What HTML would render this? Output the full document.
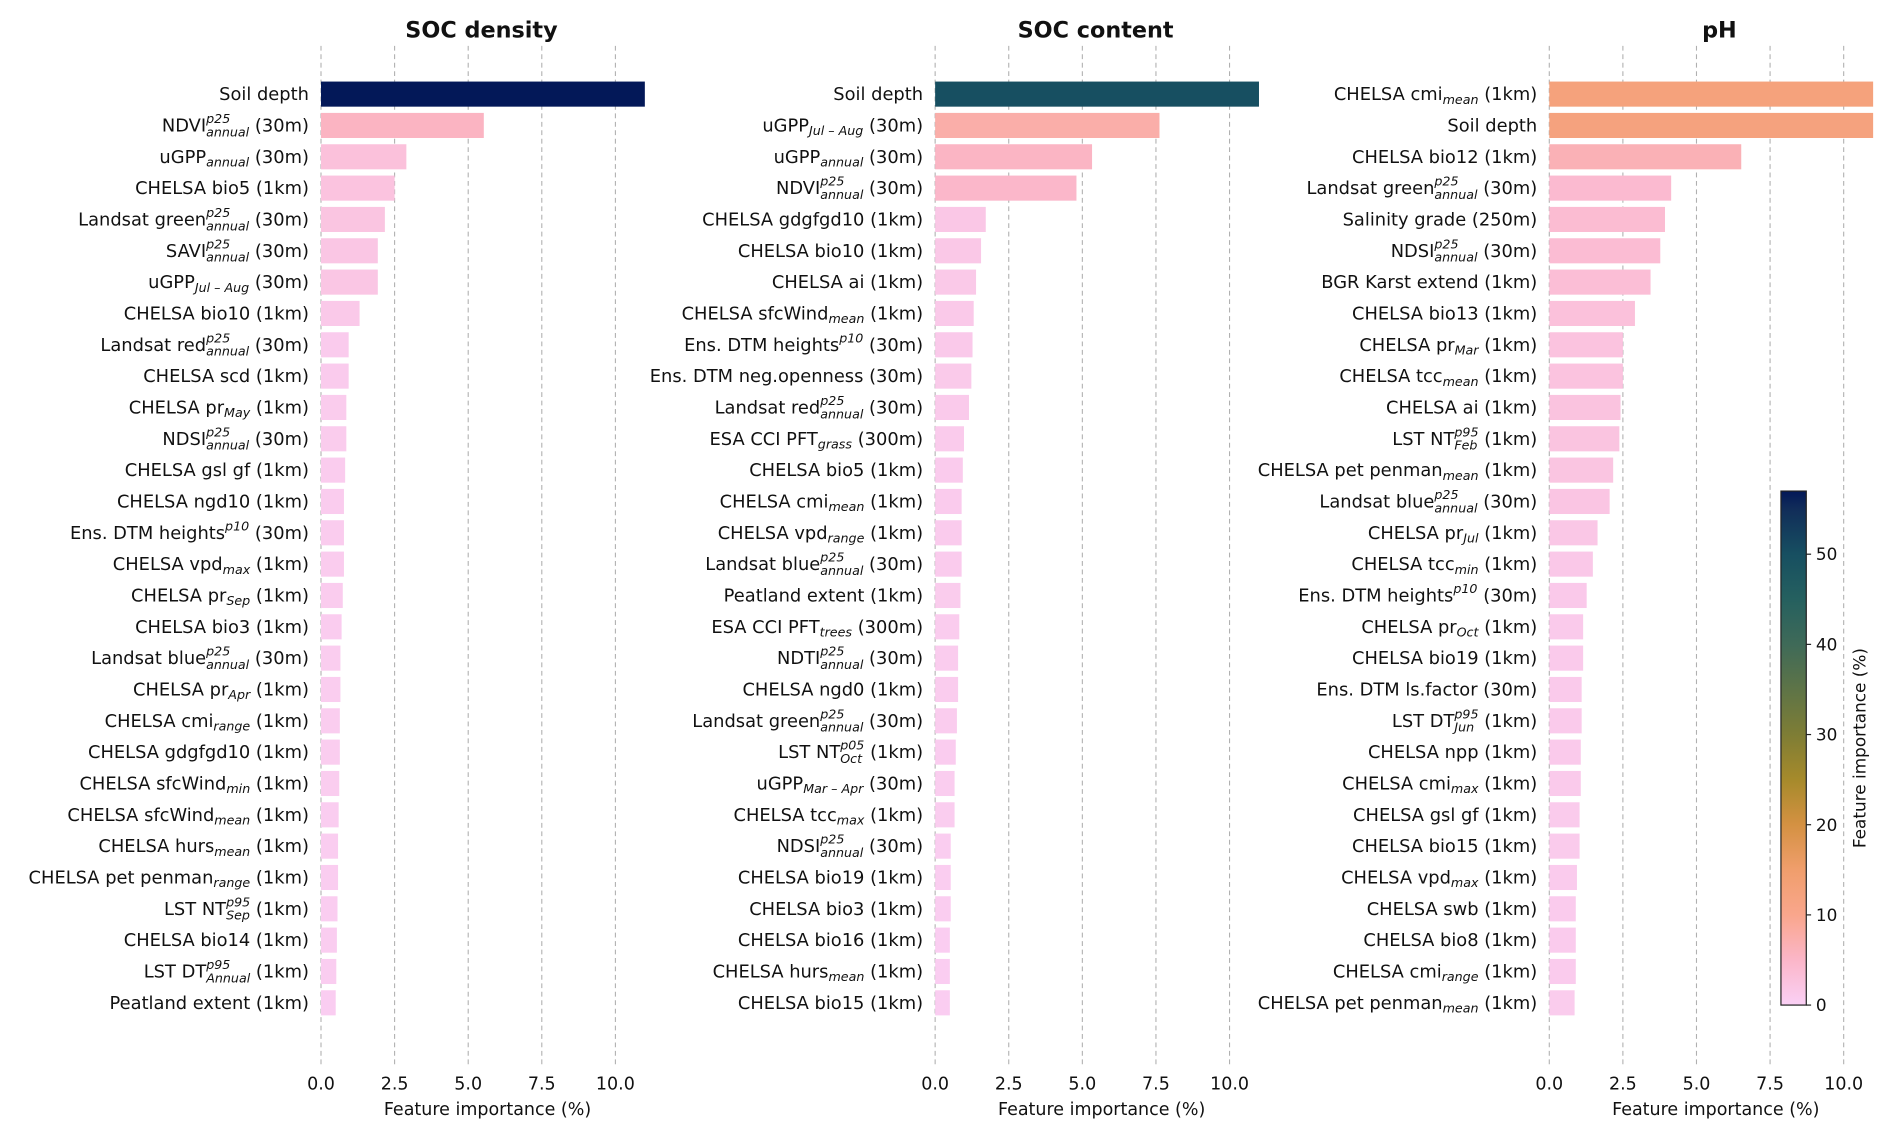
<!DOCTYPE html>
<html><head><meta charset="utf-8">
<style>
html,body{margin:0;padding:0;background:#fff;}
svg{display:block;font-family:"DejaVu Sans","Liberation Sans",sans-serif;}
svg text{white-space:pre;}
</style></head>
<body>
<svg id="chart" width="1892" height="1139" viewBox="0 0 1568 944" xmlns="http://www.w3.org/2000/svg" xml:space="preserve">
<defs>
<linearGradient id="cbgrad" x1="0" y1="1" x2="0" y2="0">
</linearGradient>
</defs>
</svg>
<script>
// ---- data ----
const socDensityLabels = ["Soil depth","NDVI^{p25}_{annual} (30m)","uGPP_{annual} (30m)","CHELSA bio5 (1km)","Landsat green^{p25}_{annual} (30m)","SAVI^{p25}_{annual} (30m)","uGPP_{Jul-Aug} (30m)","CHELSA bio10 (1km)","Landsat red^{p25}_{annual} (30m)","CHELSA scd (1km)","CHELSA pr_{May} (1km)","NDSI^{p25}_{annual} (30m)","CHELSA gsl gf (1km)","CHELSA ngd10 (1km)","Ens. DTM heights^{p10} (30m)","CHELSA vpd_{max} (1km)","CHELSA pr_{Sep} (1km)","CHELSA bio3 (1km)","Landsat blue^{p25}_{annual} (30m)","CHELSA pr_{Apr} (1km)","CHELSA cmi_{range} (1km)","CHELSA gdgfgd10 (1km)","CHELSA sfcWind_{min} (1km)","CHELSA sfcWind_{mean} (1km)","CHELSA hurs_{mean} (1km)","CHELSA pet penman_{range} (1km)","LST NT^{p95}_{Sep} (1km)","CHELSA bio14 (1km)","LST DT^{p95}_{Annual} (1km)","Peatland extent (1km)"];
const socDensityValues = [57,5.53,2.9,2.5,2.17,1.93,1.93,1.31,0.94,0.94,0.86,0.86,0.82,0.78,0.78,0.78,0.74,0.7,0.66,0.66,0.64,0.64,0.62,0.6,0.58,0.58,0.56,0.54,0.52,0.5];
const socContentLabels = ["Soil depth","uGPP_{Jul-Aug} (30m)","uGPP_{annual} (30m)","NDVI^{p25}_{annual} (30m)","CHELSA gdgfgd10 (1km)","CHELSA bio10 (1km)","CHELSA ai (1km)","CHELSA sfcWind_{mean} (1km)","Ens. DTM heights^{p10} (30m)","Ens. DTM neg.openness (30m)","Landsat red^{p25}_{annual} (30m)","ESA CCI PFT_{grass} (300m)","CHELSA bio5 (1km)","CHELSA cmi_{mean} (1km)","CHELSA vpd_{range} (1km)","Landsat blue^{p25}_{annual} (30m)","Peatland extent (1km)","ESA CCI PFT_{trees} (300m)","NDTI^{p25}_{annual} (30m)","CHELSA ngd0 (1km)","Landsat green^{p25}_{annual} (30m)","LST NT^{p05}_{Oct} (1km)","uGPP_{Mar-Apr} (30m)","CHELSA tcc_{max} (1km)","NDSI^{p25}_{annual} (30m)","CHELSA bio19 (1km)","CHELSA bio3 (1km)","CHELSA bio16 (1km)","CHELSA hurs_{mean} (1km)","CHELSA bio15 (1km)"];
const socContentValues = [50,7.62,5.33,4.8,1.72,1.56,1.39,1.31,1.27,1.23,1.15,0.98,0.94,0.9,0.9,0.9,0.86,0.82,0.78,0.78,0.74,0.7,0.66,0.66,0.53,0.53,0.53,0.5,0.5,0.5];
const phLabels = ["CHELSA cmi_{mean} (1km)","Soil depth","CHELSA bio12 (1km)","Landsat green^{p25}_{annual} (30m)","Salinity grade (250m)","NDSI^{p25}_{annual} (30m)","BGR Karst extend (1km)","CHELSA bio13 (1km)","CHELSA pr_{Mar} (1km)","CHELSA tcc_{mean} (1km)","CHELSA ai (1km)","LST NT^{p95}_{Feb} (1km)","CHELSA pet penman_{mean} (1km)","Landsat blue^{p25}_{annual} (30m)","CHELSA pr_{Jul} (1km)","CHELSA tcc_{min} (1km)","Ens. DTM heights^{p10} (30m)","CHELSA pr_{Oct} (1km)","CHELSA bio19 (1km)","Ens. DTM ls.factor (30m)","LST DT^{p95}_{Jun} (1km)","CHELSA npp (1km)","CHELSA cmi_{max} (1km)","CHELSA gsl gf (1km)","CHELSA bio15 (1km)","CHELSA vpd_{max} (1km)","CHELSA swb (1km)","CHELSA bio8 (1km)","CHELSA cmi_{range} (1km)","CHELSA pet penman_{mean} (1km)"];
const phValues = [12.5,12.2,6.52,4.14,3.93,3.77,3.44,2.91,2.5,2.5,2.42,2.38,2.17,2.05,1.64,1.48,1.27,1.15,1.15,1.1,1.1,1.07,1.07,1.03,1.03,0.94,0.9,0.9,0.9,0.86];
const panelTitles = ["SOC density","SOC content","pH"];
const xTicks = [0,2.5,5,7.5,10];
const xTickLabels = ["0.0","2.5","5.0","7.5","10.0"];
const cbTicks = [0,10,20,30,40,50];
const cbMax = 57;

// ---- layout ----
const NS="http://www.w3.org/2000/svg";
const svg=document.getElementById('chart');
const X_MAX=11, PX_PER_UNIT=24.4;
const ROW0=78, ROWSTEP=25.97, BARH=20.8;
const panelX=[266,775,1284];
const titleOffset=[133,133,141];
const stops=[[0,[250,208,245]],[5,[251,182,200]],[10,[249,166,140]],[15,[240,158,108]],[20,[212,145,66]],[25,[166,138,43]],[30,[126,125,53]],[35,[94,116,71]],[40,[63,106,88]],[45,[37,96,95]],[50,[23,79,97]],[55,[17,45,89]],[57,[3,24,88]]];
function cmap(v){
  v=Math.max(0,Math.min(cbMax,v));
  for(let i=0;i<stops.length-1;i++){
    const a=stops[i],b=stops[i+1];
    if(v<=b[0]){const t=(v-a[0])/(b[0]-a[0]);const c=a[1].map((x,k)=>Math.round(x+(b[1][k]-x)*t));return `rgb(${c})`;}
  }
  return 'rgb(3,24,88)';
}
function el(tag,attrs,parent){const e=document.createElementNS(NS,tag);for(const k in attrs)e.setAttribute(k,attrs[k]);(parent||svg).appendChild(e);return e;}
function xs(x0,v){return x0+Math.min(v,X_MAX)*PX_PER_UNIT;}
function ys(i){return ROW0+i*ROWSTEP;}

function parseLabel(s){
  const m=s.match(/^([^\^_]*)(?:\^\{([^}]*)\})?(?:_\{([^}]*)\})?(.*)$/);
  return {base:m[1],sup:m[2]||'',sub:m[3]||'',tail:m[4]||''};
}
function drawLabel(str,xRight,y,parent){
  const g=el('g',{},parent);
  
  
  const p=parseLabel(str);
  const FS=14.8;
  const t1=el('text',{x:0,y:y+5,'font-size':FS,fill:'#111'},g);t1.textContent=p.base;
  let w=t1.getComputedTextLength();
  let ws=0;
  if(p.sup){const t=el('text',{x:w,y:y-2,'font-size':10.5,'font-style':'italic',fill:'#111'},g);t.textContent=p.sup;ws=Math.max(ws,t.getComputedTextLength());}
  if(p.sub){const t=el('text',{x:w,y:y+(p.sup?9:8),'font-size':10.5,'font-style':'italic',fill:'#111'},g);t.textContent=p.sub.replace('-',' \u2013 ');ws=Math.max(ws,t.getComputedTextLength());}
  w+=ws;
  if(p.tail){
    const tail=p.tail.replace(/^\s+/,'');
    const gap=(p.tail.length!==tail.length)?FS*0.32:0;
    const t=el('text',{x:w+gap,y:y+5,'font-size':FS,fill:'#111'},g);t.textContent=tail;w+=gap+t.getComputedTextLength();
  }
  g.setAttribute('transform',`translate(${xRight-w},0)`);
}

const panels=[[socDensityLabels,socDensityValues],[socContentLabels,socContentValues],[phLabels,phValues]];
panels.forEach((pd,pi)=>{
  const x0=panelX[pi];
  const g=el('g',{});
  
  
  xTicks.forEach((t,ti)=>{
    const gl=el('line',{x1:xs(x0,t),x2:xs(x0,t),y1:38,y2:882,stroke:'#b0b0b0','stroke-width':0.9,'stroke-dasharray':'4,3'},g);
    
    
    const tl=el('text',{x:xs(x0,t),y:903,'text-anchor':'middle','font-size':14.5,fill:'#111'},g);
    tl.textContent=xTickLabels[ti];
    
    
  });
  pd[1].forEach((v,i)=>{
    const b=el('rect',{x:x0,y:ys(i)-BARH/2,width:xs(x0,v)-x0,height:BARH,fill:cmap(v)},g);
    
    
    drawLabel(pd[0][i],x0-10,ys(i),g);
  });
  const tt=el('text',{x:x0+titleOffset[pi],y:31,'text-anchor':'middle','font-size':18.5,'font-weight':'bold',fill:'#111'},g);
  tt.textContent=panelTitles[pi];
  
  
  const xl=el('text',{x:x0+138,y:924,'text-anchor':'middle','font-size':14.5,fill:'#111'},g);
  xl.textContent='Feature importance (%)';
  
  
});

// colorbar
const grad=document.getElementById('cbgrad');
stops.forEach(s=>{el('stop',{offset:(s[0]/cbMax),'stop-color':`rgb(${s[1]})`},grad);});
const CB_X=1476,CB_W=21,CB_TOP=407,CB_BOT=833;
function cby(v){return CB_BOT-(v/cbMax)*(CB_BOT-CB_TOP);}
const cbg=el('g',{});


el('rect',{x:CB_X,y:CB_TOP,width:CB_W,height:CB_BOT-CB_TOP,fill:'url(#cbgrad)',stroke:'#222','stroke-width':1},cbg);
cbTicks.forEach(t=>{
  el('line',{x1:CB_X+CB_W,x2:CB_X+CB_W+4,y1:cby(t),y2:cby(t),stroke:'#222','stroke-width':1},cbg);
  const l=el('text',{x:CB_X+CB_W+8,y:cby(t)+5,'font-size':14,fill:'#111'},cbg);
  l.textContent=t;
  
  
});
const cbl=el('text',{x:0,y:0,'text-anchor':'middle','font-size':14,fill:'#111',transform:`translate(1546,620) rotate(-90)`},cbg);
cbl.textContent='Feature importance (%)';


</script>
</body></html>
